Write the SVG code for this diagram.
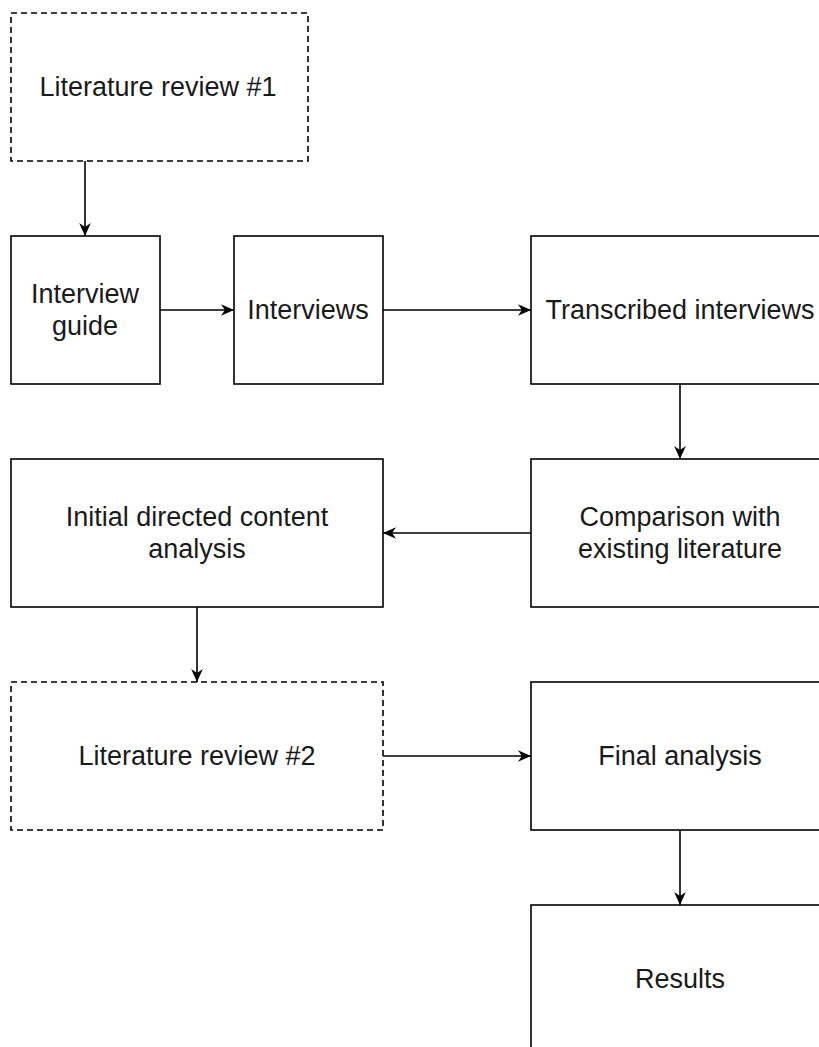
<svg xmlns="http://www.w3.org/2000/svg" width="819" height="1047" viewBox="0 0 819 1047">
<style>
.box{fill:#fff;stroke:#000;stroke-width:1.6}
.dash{stroke-dasharray:6 4}
.t{font-family:"Liberation Sans",Arial,sans-serif;font-size:27px;fill:#1a1a1a;text-anchor:middle;dominant-baseline:central}
.c{fill:none;stroke:#000;stroke-width:1.6;marker-end:url(#arr)}
</style>
<defs>
<marker id="arr" viewBox="0 0 10 10" refX="10" refY="5" markerWidth="13" markerHeight="13" markerUnits="userSpaceOnUse" orient="auto">
<path d="M0,0.5 L10,5 L0,9.5 L3,5 Z" fill="#000"/>
</marker>
</defs>
<rect width="819" height="1047" fill="#fff"/>
<g id="lit1"><rect class="box dash" x="11" y="13" width="297" height="148"/><text class="t" x="158" y="87">Literature review #1</text></g>
<g id="guide"><rect class="box" x="11" y="236" width="149" height="148"/><text class="t" x="85" y="294">Interview</text><text class="t" x="85" y="326">guide</text></g>
<g id="interviews"><rect class="box" x="234" y="236" width="149" height="148"/><text class="t" x="308" y="310">Interviews</text></g>
<g id="transcribed"><rect class="box" x="531" y="236" width="298" height="148"/><text class="t" x="680" y="310">Transcribed interviews</text></g>
<g id="comparison"><rect class="box" x="531" y="459" width="298" height="148"/><text class="t" x="680" y="517">Comparison with</text><text class="t" x="680" y="549">existing literature</text></g>
<g id="initial"><rect class="box" x="11" y="459" width="372" height="148"/><text class="t" x="197" y="517">Initial directed content</text><text class="t" x="197" y="549">analysis</text></g>
<g id="lit2"><rect class="box dash" x="11" y="682" width="372" height="148"/><text class="t" x="197" y="756">Literature review #2</text></g>
<g id="final"><rect class="box" x="531" y="682" width="298" height="148"/><text class="t" x="680" y="756">Final analysis</text></g>
<g id="results"><rect class="box" x="531" y="905" width="298" height="160"/><text class="t" x="680" y="979">Results</text></g>
<g id="connectors">
<path class="c" d="M85,161 V236"/>
<path class="c" d="M160,310 H234"/>
<path class="c" d="M383,310 H531"/>
<path class="c" d="M680,384 V459"/>
<path class="c" d="M531,533 H383"/>
<path class="c" d="M197,607 V682"/>
<path class="c" d="M383,756 H531"/>
<path class="c" d="M680,830 V905"/>
</g>
</svg>
